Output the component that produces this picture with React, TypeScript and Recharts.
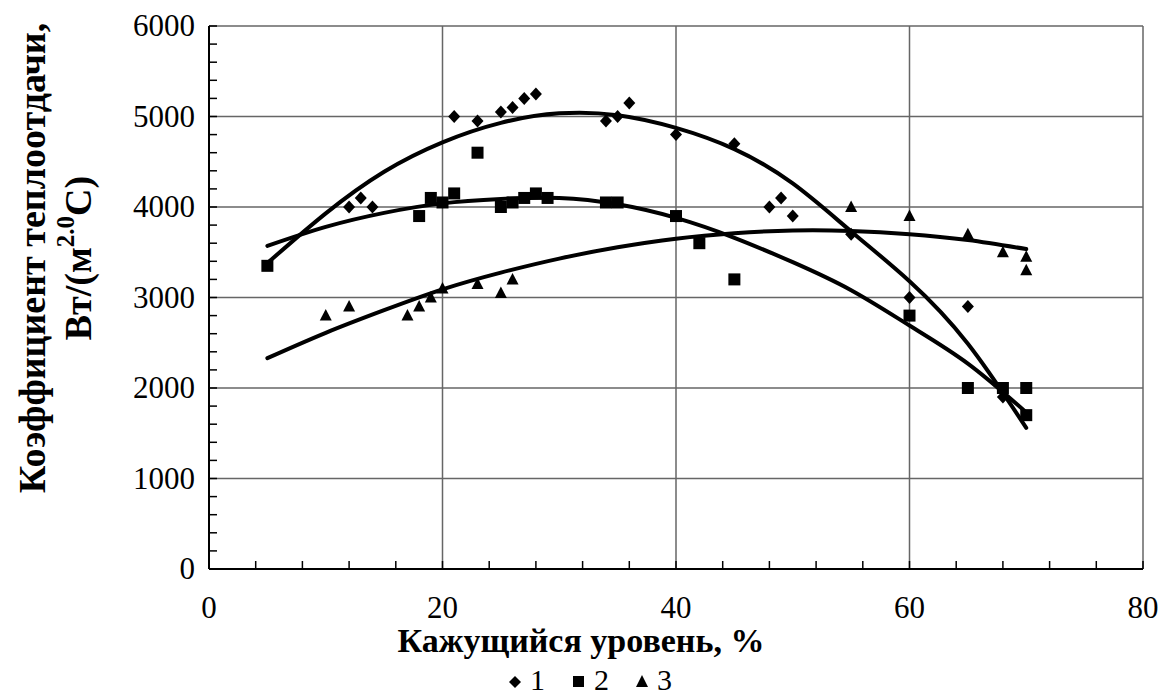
import { ComposedChart, Scatter, Line, XAxis, YAxis, ReferenceLine } from "recharts";

// measured points, [x %, value]
const series1 = [
  [12, 4000], [13, 4100], [14, 4000], [21, 5000], [23, 4950], [25, 5050], [26, 5100],
  [27, 5200], [28, 5250], [34, 4950], [35, 5000], [36, 5150], [40, 4800], [45, 4700],
  [48, 4000], [49, 4100], [50, 3900], [55, 3700], [60, 3000], [65, 2900], [68, 1900],
];
const series2 = [
  [5, 3350], [18, 3900], [19, 4100], [20, 4050], [21, 4150], [23, 4600], [25, 4000],
  [26, 4050], [27, 4100], [28, 4150], [29, 4100], [34, 4050], [35, 4050], [40, 3900],
  [42, 3600], [45, 3200], [60, 2800], [65, 2000], [68, 2000], [70, 2000], [70, 1700],
];
const series3 = [
  [10, 2800], [12, 2900], [17, 2800], [18, 2900], [19, 3000], [20, 3100], [23, 3150],
  [25, 3050], [26, 3200], [55, 4000], [60, 3900], [65, 3700], [68, 3500], [70, 3450], [70, 3300],
];

// trend curves
const trendX = [5, 10, 15, 20, 25, 30, 35, 40, 45, 50, 55, 60, 65, 70];
const trend1 = [3380, 3930, 4390, 4715, 4930, 5035, 5015, 4875, 4640, 4260, 3730, 3180, 2490, 1560];
const trend2 = [3570, 3780, 3935, 4040, 4088, 4100, 4030, 3880, 3660, 3390, 3080, 2690, 2270, 1730];
const trend3 = [2330, 2610, 2860, 3090, 3275, 3430, 3555, 3650, 3710, 3740, 3735, 3700, 3635, 3535];

const xMajor = [0, 20, 40, 60, 80];
const yMajor = [0, 1000, 2000, 3000, 4000, 5000, 6000];
const xTicks = Array.from({ length: 21 }, (_, i) => i * 4);
const yTicks = Array.from({ length: 31 }, (_, i) => i * 200);

const FONT = '"Liberation Serif", "Times New Roman", serif';

const toXY = (arr: number[][]) => arr.map(([x, y]) => ({ x, y }));
const toTrend = (ys: number[]) => trendX.map((x, i) => ({ x, y: ys[i] }));

const Diamond = (p: any) => (
  <path d={`M${p.cx},${p.cy - 6.5}L${p.cx + 6},${p.cy}L${p.cx},${p.cy + 6.5}L${p.cx - 6},${p.cy}Z`} fill="#000" />
);
const Square = (p: any) => <rect x={p.cx - 6} y={p.cy - 6} width={12} height={12} fill="#000" />;
const Triangle = (p: any) => (
  <path d={`M${p.cx},${p.cy - 6.5}L${p.cx + 6},${p.cy + 5}L${p.cx - 6},${p.cy + 5}Z`} fill="#000" />
);

const XTick = (props: any) => {
  const { x, y, payload } = props;
  const v = payload.value;
  return (
    <g>
      <line x1={x} x2={x} y1={y} y2={y - 8} stroke="#000" strokeWidth={1.5} />
      {xMajor.includes(v) && (
        <text x={x} y={y + 49} textAnchor="middle" fontFamily={FONT} fontSize={31} fill="#000">
          {v}
        </text>
      )}
    </g>
  );
};

const YTick = (props: any) => {
  const { x, y, payload } = props;
  const v = payload.value;
  return (
    <g>
      <line x1={x} x2={x + 8} y1={y} y2={y} stroke="#000" strokeWidth={1.5} />
      {yMajor.includes(v) && (
        <text x={x - 14} y={y + 10} textAnchor="end" fontFamily={FONT} fontSize={31} fill="#000">
          {v}
        </text>
      )}
    </g>
  );
};

export default function App() {
  return (
    <div style={{ position: "absolute", left: 0, top: 0, width: 1163, height: 698, background: "#fff" }}>
      <ComposedChart width={1163} height={698} margin={{ top: 26, right: 20, bottom: 69, left: 0 }}>
        <XAxis
          type="number"
          dataKey="x"
          domain={[0, 80]}
          ticks={xTicks}
          interval={0}
          height={60}
          tickSize={0}
          tickMargin={0}
          tickLine={false}
          axisLine={{ stroke: "#000", strokeWidth: 2 }}
          tick={<XTick />}
          allowDataOverflow
        />
        <YAxis
          type="number"
          dataKey="y"
          domain={[0, 6000]}
          ticks={yTicks}
          interval={0}
          width={209}
          tickSize={0}
          tickMargin={0}
          tickLine={false}
          axisLine={{ stroke: "#000", strokeWidth: 2 }}
          tick={<YTick />}
          allowDataOverflow
        />
        {xMajor.slice(1).map((v) => (
          <ReferenceLine key={"vx" + v} x={v} stroke="#666" strokeWidth={1.5} />
        ))}
        {yMajor.slice(1).map((v) => (
          <ReferenceLine key={"hy" + v} y={v} stroke="#666" strokeWidth={1.5} />
        ))}
        <Scatter data={toXY(series1)} shape={Diamond} isAnimationActive={false} />
        <Scatter data={toXY(series2)} shape={Square} isAnimationActive={false} />
        <Scatter data={toXY(series3)} shape={Triangle} isAnimationActive={false} />
        <Line data={toTrend(trend1)} dataKey="y" type="natural" stroke="#000" strokeWidth={4}
          strokeLinecap="round" dot={false} activeDot={false} isAnimationActive={false} />
        <Line data={toTrend(trend2)} dataKey="y" type="natural" stroke="#000" strokeWidth={4}
          strokeLinecap="round" dot={false} activeDot={false} isAnimationActive={false} />
        <Line data={toTrend(trend3)} dataKey="y" type="natural" stroke="#000" strokeWidth={4}
          strokeLinecap="round" dot={false} activeDot={false} isAnimationActive={false} />
      </ComposedChart>
      <svg width={1163} height={698} style={{ position: "absolute", left: 0, top: 0, pointerEvents: "none" }}>
        <g fontFamily={FONT} fontWeight="bold" fontSize={38} fill="#000">
          <text transform="translate(32,258) rotate(-90)" textAnchor="middle" dominantBaseline="central">
            Коэффициент теплоотдачи,
          </text>
          <text transform="translate(78,258) rotate(-90)" textAnchor="middle" dominantBaseline="central">
            Вт/(м<tspan dy={-13} fontSize={25}>2.0</tspan><tspan dy={13}>С)</tspan>
          </text>
        </g>
        <text x={581} y={652} textAnchor="middle" fontFamily={FONT} fontWeight="bold" fontSize={34} fill="#000">
          Кажущийся уровень, %
        </text>
        <g fontFamily={FONT} fontSize={30} fill="#000">
          <path d="M515,676L521,682L515,688L509,682Z" />
          <text x={530} y={690}>1</text>
          <rect x={573} y={676} width={11} height={11} />
          <text x={594} y={690}>2</text>
          <path d="M642,675L648,687L636,687Z" />
          <text x={657} y={690}>3</text>
        </g>
      </svg>
    </div>
  );
}
